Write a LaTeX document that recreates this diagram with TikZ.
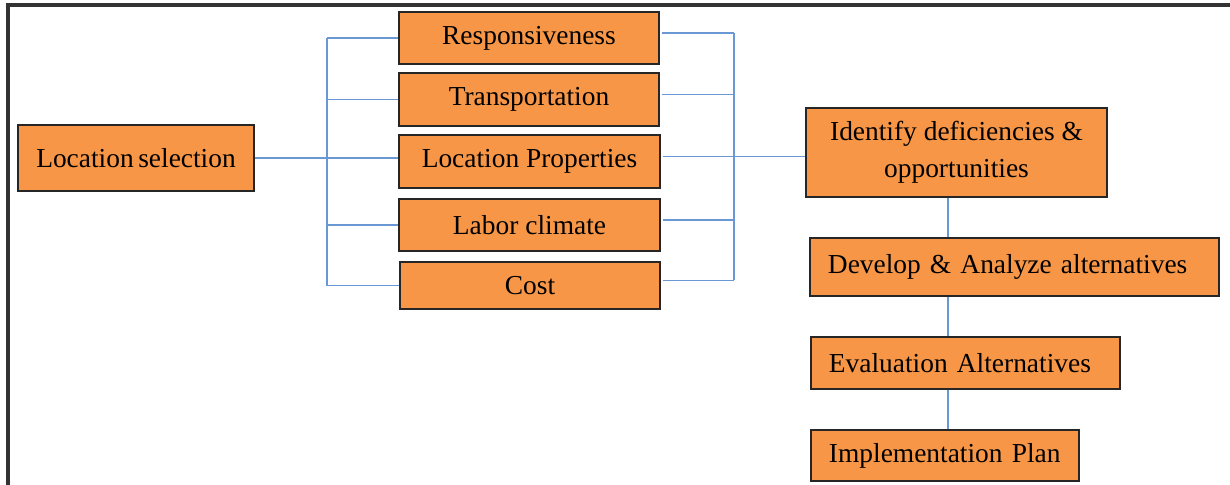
\documentclass[tikz,border=0pt]{standalone}
\usepackage{fontspec}
\setmainfont{Liberation Serif}
\usepackage{tikz}
\usetikzlibrary{positioning,calc}
\definecolor{boxfill}{HTML}{F79646}
\definecolor{linkblue}{HTML}{6A98D4}
\definecolor{framegray}{HTML}{333333}

\tikzset{
  factor/.style={draw=black!85, line width=0.9pt, fill=boxfill, inner sep=0pt},
  stage/.style={factor, inner xsep=0.45cm, align=left},
  link/.style={draw=linkblue, line width=0.8pt},
}

\begin{document}
\begin{tikzpicture}[x=0.025cm, y=-0.025cm, font=\fontsize{19.5}{26.3}\selectfont]
  \useasboundingbox (0,0) rectangle (1230,485);
  \draw[framegray, line width=2.2pt] (8,485) -- (8,5) -- (1230,5);

  % main factor and its criteria
  \node[factor, minimum width=5.9cm, minimum height=1.65cm] (sel) at (136,158) {Location\,selection};
  \node[factor, minimum width=6.5cm, minimum height=1.3cm] (resp) at (529,38) {Responsiveness};
  \node[factor, minimum width=6.5cm, minimum height=1.325cm] (trans) at (529,99.5) {Transportation};
  \node[factor, minimum width=6.525cm, minimum height=1.325cm] (props) at (529.5,161.5) {Location Properties};
  \node[factor, minimum width=6.525cm, minimum height=1.3cm] (labor) at (529.5,225) {Labor climate};
  \node[factor, minimum width=6.5cm, minimum height=1.175cm] (cost) at (530,285.5) {Cost};

  % process steps
  \node[factor, align=center, minimum width=7.525cm, minimum height=2.225cm] (ident) at (956.5,152.5) {Identify deficiencies \&\\opportunities};
  \node[stage, text width=9.325cm, minimum height=1.45cm] (dev) at (1014.5,267) {Develop \& Analyze alternatives};
  \node[stage, text width=6.825cm, minimum height=1.3cm] (eval) at (965.5,363) {Evaluation Alternatives};
  \node[stage, text width=5.8cm, minimum height=1.275cm] (impl) at (945,455.5) {Implementation Plan};

  \coordinate (lbus) at (327,0);
  \coordinate (rbus) at (734,0);
  \coordinate (spine) at (948,0);

  % left bracket
  \draw[link] (sel.east) -- (sel.east -| props.west);
  \draw[link] (resp.west -| lbus) -- (cost.west -| lbus);
  \foreach \n in {resp,trans,labor,cost}
    \draw[link] (\n.west -| lbus) -- (\n.west);

  % right bracket
  \foreach \n in {resp,trans,props,labor,cost}
    \draw[link] ([xshift=2pt,yshift=0.125cm]\n.east) -- ([yshift=0.125cm]\n.east -| rbus);
  \draw[link] ([yshift=0.125cm]resp.east -| rbus) -- ([yshift=0.125cm]cost.east -| rbus);
  \draw[link] ([yshift=0.125cm]props.east -| rbus) -- ([yshift=0.125cm]props.east -| ident.west);

  % steps
  \draw[link] (ident.south -| spine) -- (dev.north -| spine);
  \draw[link] (dev.south -| spine) -- (eval.north -| spine);
  \draw[link] (eval.south -| spine) -- (impl.north -| spine);
\end{tikzpicture}
\end{document}
